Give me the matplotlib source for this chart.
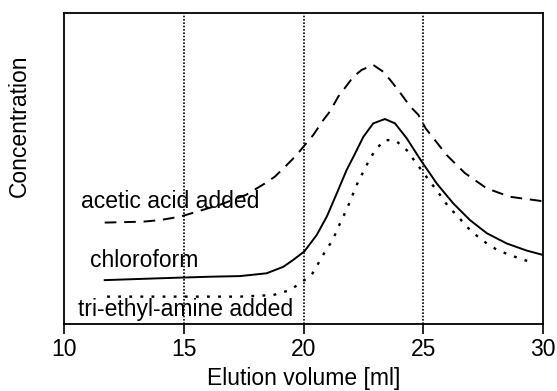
import matplotlib
matplotlib.use("Agg")
import matplotlib.pyplot as plt

plt.rcParams['font.family'] = ['Liberation Sans', 'DejaVu Sans']

# chloroform (solid)
chloro_x = [11.7, 14.0, 16.1, 17.35, 18.46, 19.16, 19.57, 20.03, 20.55, 20.97, 21.39, 21.8,
            22.1, 22.5, 22.91, 23.4, 23.82, 24.31, 24.8, 25.0, 25.56, 26.25, 26.95, 27.65,
            28.48, 29.32, 30.0]
chloro_y = [14.1, 14.7, 15.2, 15.4, 16.3, 18.4, 20.6, 23.3, 28.6, 34.5, 42.0, 49.5,
            54.0, 60.2, 64.5, 65.9, 64.5, 59.7, 53.8, 51.5, 45.2, 38.8, 33.4, 29.2,
            25.9, 23.6, 22.2]

# acetic acid added (dashed)
acetic_x = [11.7, 13.3, 14.0, 14.85, 15.8, 16.5, 17.6, 18.39, 18.81, 19.3, 19.71, 20.06,
            20.41, 20.83, 21.1, 21.45, 21.66, 22.08, 22.43, 22.91, 23.33, 23.68, 24.03,
            24.45, 24.8, 25.1, 25.98, 26.74, 27.65, 28.62, 29.87, 30.0]
acetic_y = [32.6, 32.9, 33.4, 34.5, 36.7, 38.3, 41.5, 45.2, 47.4, 51.1, 54.3, 57.6,
            60.8, 65.6, 68.3, 73.1, 75.2, 79.5, 81.7, 83.3, 81.1, 77.9, 74.4,
            70.0, 67.2, 62.9, 54.3, 48.5, 43.6, 40.9, 39.6, 39.4]

# tri-ethyl-amine added (dotted)
tea_x = [11.8, 15.4, 17.35, 18.74, 19.44, 19.85, 20.34, 20.62, 20.9, 21.22, 21.43, 21.66,
         21.85, 22.05, 22.25, 22.5, 22.71, 22.99, 23.4, 23.86, 24.31, 24.66, 25.28, 25.7,
         26.05, 26.46, 26.81, 27.23, 27.65, 28.13, 28.62, 29.11, 29.6]
tea_y = [8.8, 8.8, 8.8, 9.3, 10.9, 13.1, 15.8, 19.5, 23.3, 27.0, 30.8, 34.5,
         37.7, 41.5, 45.2, 49.0, 52.2, 55.9, 59.2, 58.9, 55.9, 52.2, 45.8, 41.5,
         37.7, 34.5, 31.3, 28.4, 25.9, 23.6, 22.2, 20.8, 19.7]

x_ticks = [10, 15, 20, 25, 30]
grid_x = [15, 20, 25]

fig = plt.figure(figsize=(5.57, 3.91), dpi=100)
ax = fig.add_axes([0.1149, 0.1714, 0.86, 0.7954])

for gx in grid_x:
    ax.axvline(gx, color='black', linewidth=1.2, linestyle=(0, (1, 1)), zorder=1)

ax.plot(chloro_x, chloro_y, color='black', linewidth=1.4)
ax.plot(acetic_x, acetic_y, color='black', linewidth=1.4, linestyle=(0, (6, 4)))
ax.plot(tea_x, tea_y, color='black', linewidth=1.7, linestyle=(0, (1.2, 3.5)))

fs = 16.5
ax.text(10.7, 39.3, "acetic acid added", fontsize=fs, ha='left', va='center')
ax.text(11.1, 20.3, "chloroform", fontsize=fs, ha='left', va='center')
ax.text(10.6, 4.8, "tri-ethyl-amine added", fontsize=fs, ha='left', va='center')

ax.set_xlim(10, 30)
ax.set_ylim(0, 100)
ax.set_xticks(x_ticks)
ax.set_yticks([])
ax.tick_params(axis='x', direction='out', length=7, width=1.2, labelsize=fs, pad=3)
for sp in ax.spines.values():
    sp.set_linewidth(1.3)

ax.set_xlabel("Elution volume [ml]", fontsize=fs, va='center')
ax.xaxis.set_label_coords(0.5, -0.175)
ax.set_ylabel("Concentration", fontsize=fs, va='center')
ax.yaxis.set_label_coords(-0.094, 0.637)

fig.savefig("out.png", dpi=100)
